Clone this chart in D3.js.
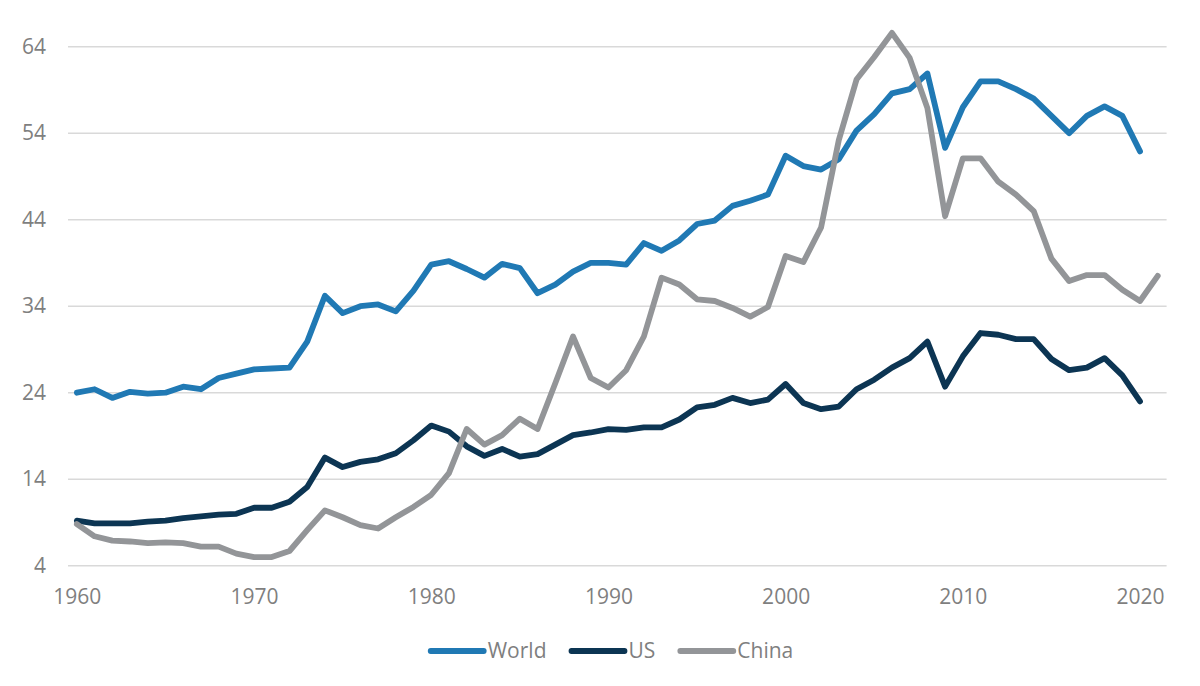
<!DOCTYPE html>
<html>
<head>
<meta charset="utf-8">
<script src="https://cdn.jsdelivr.net/npm/d3@7/dist/d3.min.js"></script>
<style>
  body { margin: 0; background: #fff; }
  text { font-family: "Open Sans", sans-serif; fill: #7f7f7f; }
</style>
</head>
<body>
<div id="chart"></div>
<script>
var years = d3.range(1960, 2022);
var yTicks = [4, 14, 24, 34, 44, 54, 64];
var xTicks = [1960, 1970, 1980, 1990, 2000, 2010, 2020];

// 1960 .. 2020
var world = [24.0, 24.4, 23.4, 24.1, 23.9, 24.0, 24.7, 24.4, 25.7, 26.2,
  26.7, 26.8, 26.9, 29.9, 35.2, 33.2, 34.0, 34.2, 33.4, 35.8,
  38.8, 39.2, 38.3, 37.3, 38.9, 38.4, 35.5, 36.5, 38.0, 39.0,
  39.0, 38.8, 41.3, 40.4, 41.6, 43.5, 43.9, 45.6, 46.2, 46.9,
  51.4, 50.2, 49.8, 51.0, 54.3, 56.2, 58.6, 59.1, 60.9, 52.3,
  57.0, 60.0, 60.0, 59.1, 58.0, 56.0, 54.0, 56.0, 57.1, 56.0,
  51.9];

// 1960 .. 2020
var us = [9.2, 8.9, 8.9, 8.9, 9.1, 9.2, 9.5, 9.7, 9.9, 10.0,
  10.7, 10.7, 11.4, 13.1, 16.5, 15.4, 16.0, 16.3, 17.0, 18.5,
  20.2, 19.5, 17.8, 16.7, 17.5, 16.6, 16.9, 18.0, 19.1, 19.4,
  19.8, 19.7, 20.0, 20.0, 20.9, 22.3, 22.6, 23.4, 22.8, 23.2,
  25.0, 22.8, 22.1, 22.4, 24.4, 25.5, 26.9, 28.0, 29.9, 24.7,
  28.2, 30.9, 30.7, 30.2, 30.2, 27.9, 26.6, 26.9, 28.0, 26.0,
  23.0];

// 1960 .. 2021
var china = [8.8, 7.4, 6.9, 6.8, 6.6, 6.7, 6.6, 6.2, 6.2, 5.4,
  5.0, 5.0, 5.7, 8.1, 10.4, 9.6, 8.7, 8.3, 9.6, 10.8,
  12.2, 14.7, 19.8, 18.0, 19.1, 21.0, 19.8, 25.1, 30.5, 25.7,
  24.6, 26.6, 30.5, 37.3, 36.5, 34.8, 34.6, 33.8, 32.8, 33.9,
  39.8, 39.1, 43.1, 53.2, 60.2, 62.8, 65.6, 62.7, 56.9, 44.4,
  51.1, 51.1, 48.4, 46.9, 45.0, 39.5, 36.9, 37.6, 37.6, 35.9,
  34.6, 37.5];

var seriesNames = ["World", "US", "China"];
var seriesColors = ["#2079b4", "#0c3553", "#939598"];
var seriesValues = [world, us, china];

var svgWidth = 1200;
var svgHeight = 686;

var svg = d3.select("#chart")
  .append("svg")
  .attr("width", svgWidth)
  .attr("height", svgHeight);

// categories sit in the middle of their slot, like Excel
var xScale = d3.scalePoint()
  .domain(years)
  .range([68, 1166.6])
  .padding(0.5);

var yScale = d3.scaleLinear()
  .domain([4, 64])
  .range([565.7, 46.7]);

// gridlines
svg.append("g")
  .selectAll("line")
  .data(yTicks)
  .enter()
  .append("line")
  .attr("x1", 68)
  .attr("x2", 1166.6)
  .attr("y1", d => yScale(d))
  .attr("y2", d => yScale(d))
  .attr("stroke", "#d9d9d9")
  .attr("stroke-width", 1.5);

// y axis labels
var leftAxis = d3.axisLeft(yScale).tickValues(yTicks).tickSize(0).tickPadding(0);
svg.append("g")
  .attr("transform", "translate(46, 0)")
  .call(leftAxis)
  .call(g => g.select(".domain").remove())
  .selectAll("text")
  .attr("font-size", "21px")
  .attr("font-family", "Open Sans")
  .attr("fill", "#7f7f7f");

// x axis labels
var bottomAxis = d3.axisBottom(xScale).tickValues(xTicks).tickSize(0).tickPadding(0);
svg.append("g")
  .attr("transform", "translate(0, 589)")
  .call(bottomAxis)
  .call(g => g.select(".domain").remove())
  .selectAll("text")
  .attr("font-size", "21px")
  .attr("font-family", "Open Sans")
  .attr("fill", "#7f7f7f");

// lines
var line = d3.line()
  .x((d, i) => xScale(years[i]))
  .y(d => yScale(d));

seriesValues.forEach(function(values, i) {
  svg.append("path")
    .datum(values)
    .attr("d", line)
    .attr("fill", "none")
    .attr("stroke", seriesColors[i])
    .attr("stroke-width", 5.8)
    .attr("stroke-linejoin", "round")
    .attr("stroke-linecap", "round");
});

// legend
var legend = svg.append("g");
var cursor = 0;
seriesNames.forEach(function(name, i) {
  var item = legend.append("g").attr("transform", `translate(${cursor}, 0)`);
  item.append("line")
    .attr("x1", 3).attr("x2", 56)
    .attr("y1", 0).attr("y2", 0)
    .attr("stroke", seriesColors[i])
    .attr("stroke-width", 5.8)
    .attr("stroke-linecap", "round");
  var t = item.append("text")
    .attr("x", 60)
    .attr("y", 0)
    .attr("dy", "0.35em")
    .attr("font-size", "21px")
    .text(name);
  cursor += 60 + t.node().getComputedTextLength() + 22;
});
var legendWidth = cursor - 22;
legend.attr("transform", `translate(${610.5 - legendWidth / 2}, 651)`);
</script>
</body>
</html>
